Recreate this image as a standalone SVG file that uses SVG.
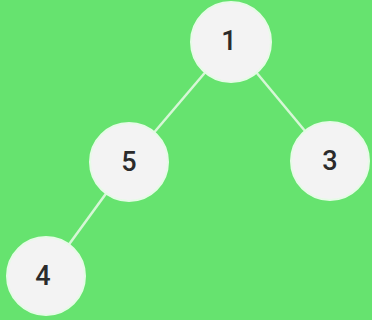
<svg xmlns="http://www.w3.org/2000/svg" width="372" height="320" viewBox="0 0 372 320">
<style>
.n{fill:#f3f3f3;stroke:#e6fbe6;stroke-width:2}
.t{font-family:"Roboto","Liberation Sans",sans-serif;font-size:27px;font-weight:500;fill:#2b2b2b;text-anchor:middle;dominant-baseline:central}
.e{stroke:#d6f7d6;stroke-width:2.5}
</style>
<rect width="372" height="320" fill="#66e36f"/>
<g id="edges">
<line class="e" x1="231" y1="42" x2="129" y2="162"/>
<line class="e" x1="231" y1="42" x2="330" y2="161"/>
<line class="e" x1="129" y1="162" x2="46" y2="276"/>
</g>
<g id="node1"><circle class="n" cx="231" cy="42" r="40"/><text class="t" x="229" y="41">1</text></g>
<g id="node5"><circle class="n" cx="129" cy="162" r="39"/><text class="t" x="129" y="162">5</text></g>
<g id="node3"><circle class="n" cx="330" cy="161" r="39"/><text class="t" x="330" y="161">3</text></g>
<g id="node4"><circle class="n" cx="46" cy="276" r="39"/><text class="t" x="43" y="276">4</text></g>
</svg>
